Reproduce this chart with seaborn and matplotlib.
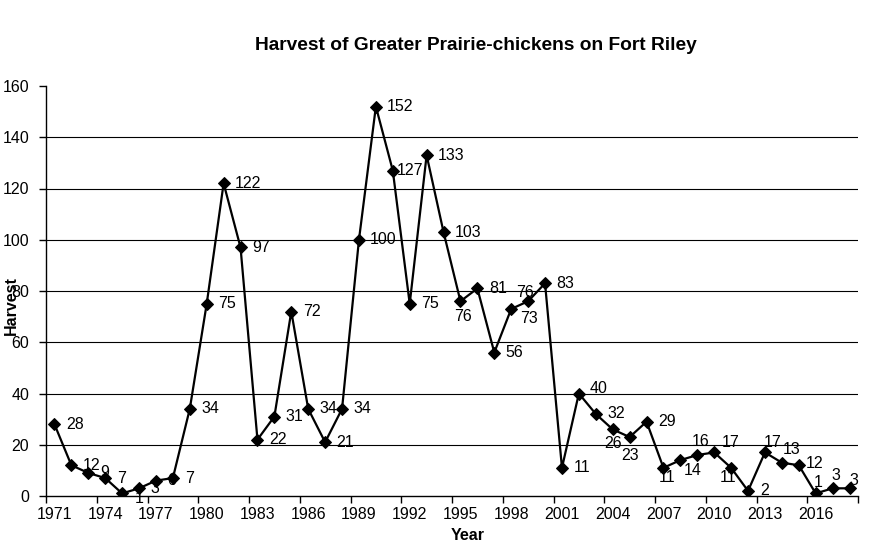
import matplotlib
matplotlib.use("Agg")
import matplotlib.pyplot as plt
import seaborn as sns
import pandas as pd

years = list(range(1971, 2019))
harvest = [28, 12, 9, 7, 1, 3, 6, 7, 34, 75, 122, 97, 22, 31, 72, 34, 21, 34,
           100, 152, 127, 75, 133, 103, 76, 81, 56, 73, 76, 83, 11, 40, 32, 26,
           23, 29, 11, 14, 16, 17, 11, 2, 17, 13, 12, 1, 3, 3]
tick_years = years[::3]
y_ticks = [0, 20, 40, 60, 80, 100, 120, 140, 160]

title = "Harvest of Greater Prairie-chickens on Fort Riley"
x_title = "Year"
y_title = "Harvest"

# label placement (pixel offsets of label centre) where not the default "right"
label_offsets = {
    1975: (17, -5), 1991: (17, 0), 1995: (3, -15), 1998: (18, -10),
    1999: (-3, 9), 2002: (20, 5), 2004: (0, -14), 2005: (0, -18),
    2007: (4, -10), 2008: (12, -10), 2009: (3, 13), 2010: (16, 10),
    2011: (-3, -10), 2013: (8, 10), 2014: (10, 13), 2015: (16, 2),
    2016: (2, 11), 2017: (3, 13), 2018: (4, 8),
}

sns.set_theme(style="white")
plt.rcParams["font.family"] = ["Liberation Sans", "DejaVu Sans"]

df = pd.DataFrame({"Year": years, "Harvest": harvest})

W, H = 874, 552
fig = plt.figure(figsize=(W / 100, H / 100), dpi=100)
ax = fig.add_axes([46 / W, (H - 496) / H, (858 - 46) / W, (496 - 86) / H])

for v in y_ticks[1:-1]:
    ax.axhline(v, color="black", linewidth=0.8, zorder=1)

sns.lineplot(data=df, x="Year", y="Harvest", ax=ax, color="black",
             linewidth=1.6, marker="D", markersize=6, markeredgecolor="black",
             markerfacecolor="black", zorder=3)

for yr, v in zip(years, harvest):
    lab = str(v)
    if yr in label_offsets:
        dx, dy = label_offsets[yr]
    else:
        dx, dy = 12 + 4.2 * len(lab), 0
    ax.annotate(lab, (yr, v), xytext=(dx, dy), textcoords="offset pixels",
                ha="center", va="center", fontsize=11.5, color="black",
                zorder=4, annotation_clip=False)

ax.set_xlim(years[0] - 0.5, years[-1] + 0.5)
ax.set_ylim(0, 160)
ax.set_yticks(y_ticks)
ax.set_yticklabels([str(t) for t in y_ticks], fontsize=11.5)

ax.set_xticks([y - 0.5 for y in tick_years] + [years[-1] + 0.5])
ax.set_xticklabels([])
ax.set_xticks(tick_years, [str(t) for t in tick_years], minor=True)
ax.tick_params(axis="x", which="major", length=5, width=1, color="black",
               direction="out", bottom=True)
ax.tick_params(axis="x", which="minor", length=0, pad=8, labelsize=11.5,
               labelcolor="black")
ax.tick_params(axis="y", length=5, width=1, color="black", direction="out",
               left=True, pad=7, labelcolor="black")

for s in ["top", "right"]:
    ax.spines[s].set_visible(False)
for s in ["left", "bottom"]:
    ax.spines[s].set_color("black")
    ax.spines[s].set_linewidth(1)

ax.set_xlabel(x_title, fontsize=11.5, fontweight="bold", color="black")
ax.set_ylabel(y_title, fontsize=11.5, fontweight="bold", color="black")
ax.xaxis.set_label_coords((468 - 46) / 812, (496 - 528) / 410)
ax.yaxis.set_label_coords((19 - 46) / 812, (496 - 306) / 410)

fig.text(476 / W, 1 - 46 / H, title, ha="center", va="center",
         fontsize=13.8, fontweight="bold", color="black")

fig.savefig("out.png", dpi=100)
